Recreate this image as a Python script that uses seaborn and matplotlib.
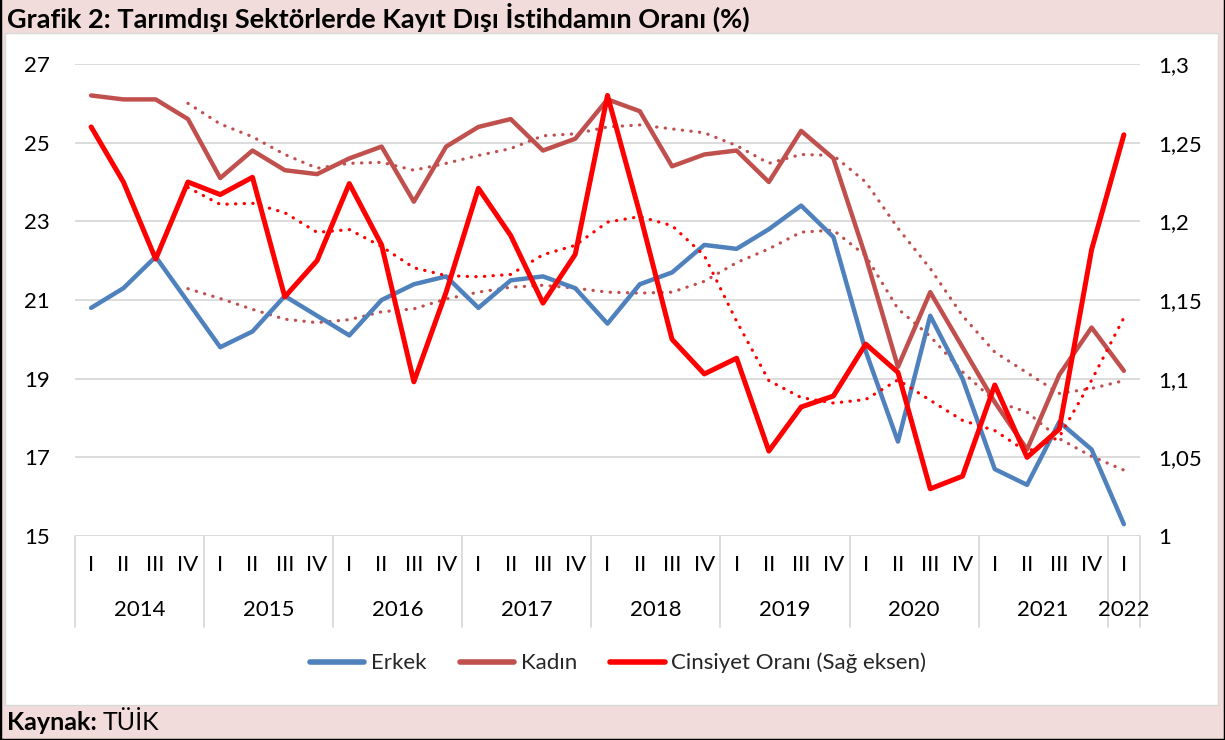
import matplotlib
matplotlib.use("Agg")
import matplotlib.pyplot as plt
import matplotlib.transforms as mtransforms
from matplotlib.lines import Line2D
from matplotlib.patches import Rectangle
import seaborn as sns
import pandas as pd

# quarters 2014 I .. 2022 I
years = ["2014", "2015", "2016", "2017", "2018", "2019", "2020", "2021", "2022"]
quarters = ["I", "II", "III", "IV"] * 8 + ["I"]
year_of = [y for y in years[:-1] for _ in range(4)] + ["2022"]

erkek = [20.8, 21.3, 22.1, 20.95,
         19.8, 20.2, 21.1, 20.6,
         20.1, 21.0, 21.4, 21.6,
         20.8, 21.5, 21.6, 21.3,
         20.4, 21.4, 21.7, 22.4,
         22.3, 22.8, 23.4, 22.6,
         19.7, 17.4, 20.6, 19.0,
         16.7, 16.3, 17.9, 17.2,
         15.3]
kadin = [26.2, 26.1, 26.1, 25.6,
         24.1, 24.8, 24.3, 24.2,
         24.6, 24.9, 23.5, 24.9,
         25.4, 25.6, 24.8, 25.1,
         26.1, 25.8, 24.4, 24.7,
         24.8, 24.0, 25.3, 24.6,
         22.1, 19.3, 21.2, 19.8,
         18.4, 17.2, 19.1, 20.3,
         19.2]
oran = [1.260, 1.225, 1.176, 1.225,
        1.217, 1.228, 1.152, 1.175,
        1.224, 1.185, 1.098, 1.155,
        1.221, 1.191, 1.148, 1.179,
        1.280, 1.205, 1.125, 1.103,
        1.113, 1.054, 1.082, 1.089,
        1.122, 1.104, 1.030, 1.038,
        1.096, 1.050, 1.068, 1.182,
        1.255]

BLUE = "#4F81BD"
BROWN = "#C0504D"
RED = "#FF0000"
GRID = "#D9D9D9"
FS = 16

df = pd.DataFrame({"x": range(len(quarters)), "Erkek": erkek, "Kadın": kadin, "Oran": oran})
# Excel-style 4 period moving average trendlines
ma = df[["Erkek", "Kadın", "Oran"]].rolling(4).mean()
ma["x"] = df["x"]

sns.set_theme(style="white")
plt.rcParams["font.family"] = ["Lato", "DejaVu Sans"]

W, H = 1225, 740
fig = plt.figure(figsize=(W / 100, H / 100), dpi=100, facecolor="#F2DCDB")

# white chart panel
fig.patches.append(Rectangle((5 / W, 1 - 705 / H), (1218 - 5) / W, (705 - 33) / H,
                             transform=fig.transFigure, facecolor="white",
                             edgecolor=GRID, lw=1, zorder=-10))
# dark frame on left/right/bottom
for xs, ys in [([0, 0], [0, 1]), ([1, 1], [0, 1]), ([0, 1], [0, 0])]:
    fig.add_artist(Line2D(xs, ys, transform=fig.transFigure, color="black", lw=2.5))

ax = fig.add_axes([75 / W, 1 - 536 / H, (1140 - 75) / W, (536 - 64) / H])
ax.set_facecolor("none")
ax2 = ax.twinx()

dot = dict(linestyle=(0, (0.1, 2.6)), dash_capstyle="round", lw=2.3)

sns.lineplot(data=ma, x="x", y="Erkek", ax=ax, color=BROWN, **dot)
sns.lineplot(data=ma, x="x", y="Kadın", ax=ax, color=BROWN, **dot)
sns.lineplot(data=df, x="x", y="Erkek", ax=ax, color=BLUE, lw=3.2)
sns.lineplot(data=df, x="x", y="Kadın", ax=ax, color=BROWN, lw=3.2)
sns.lineplot(data=ma, x="x", y="Oran", ax=ax2, color=RED, **dot)
sns.lineplot(data=df, x="x", y="Oran", ax=ax2, color=RED, lw=3.6)

ax.set_xlim(-0.5, len(quarters) - 0.5)
ax.set_ylim(15, 27)
ax.set_yticks(range(15, 28, 2))
ax2.set_ylim(1, 1.3)
rticks = [1, 1.05, 1.1, 1.15, 1.2, 1.25, 1.3]
ax2.set_yticks(rticks)
ax2.set_yticklabels([f"{t:g}".replace(".", ",") for t in rticks])

ax.grid(axis="y", color=GRID, lw=1.3)
ax.grid(axis="x", visible=False)
ax2.grid(False)
for a in (ax, ax2):
    for s in a.spines.values():
        s.set_visible(False)
    a.set_xlabel("")
    a.set_ylabel("")

ax.set_xticks(df["x"])
ax.set_xticklabels(quarters)
ax.tick_params(axis="x", length=0, pad=14, labelsize=FS, labelcolor="black")
ax.tick_params(axis="y", length=0, pad=18, labelsize=FS, labelcolor="black")
ax2.tick_params(axis="y", length=0, pad=13, labelsize=FS, labelcolor="black")

# multi-level category axis: year labels and separators
trans = mtransforms.blended_transform_factory(ax.transData, ax.transAxes)
y_sep_bottom = (536 - 627) / (536 - 64)
y_year = (536 - 610) / (536 - 64)
bounds = [-0.5]
for y in years:
    idx = [i for i, v in enumerate(year_of) if v == y]
    ax.text(sum(idx) / len(idx), y_year, y, transform=trans, ha="center", va="center",
            fontsize=FS, color="black")
    bounds.append(idx[-1] + 0.5)
for b in bounds:
    ax.add_line(Line2D([b, b], [0, y_sep_bottom], transform=trans, color=GRID,
                       lw=1.3, clip_on=False))

handles = [Line2D([], [], color=BLUE, lw=4),
           Line2D([], [], color=BROWN, lw=4),
           Line2D([], [], color=RED, lw=4)]
fig.legend(handles, ["Erkek", "Kadın", "Cinsiyet Oranı (Sağ eksen)"], loc="center",
           bbox_to_anchor=(618 / W, 1 - 663 / H), ncol=3, frameon=False, fontsize=FS,
           handlelength=2.45, handletextpad=0.3, columnspacing=1.5)

fig.text(7 / W, 1 - 17 / H, "Grafik 2: Tarımdışı Sektörlerde Kayıt Dışı İstihdamın Oranı (%)",
         fontsize=19.5, fontweight="bold", ha="left", va="center", color="black")

k = fig.text(7 / W, 1 - 722 / H, "Kaynak:", fontsize=18, fontweight="bold",
             ha="left", va="center", color="black")
fig.canvas.draw()
bb = k.get_window_extent()
fig.text((bb.x1 + 6) / W, 1 - 722 / H, "TÜİK", fontsize=18, ha="left", va="center",
         color="black")

fig.savefig("out.png", dpi=100, facecolor=fig.get_facecolor())
